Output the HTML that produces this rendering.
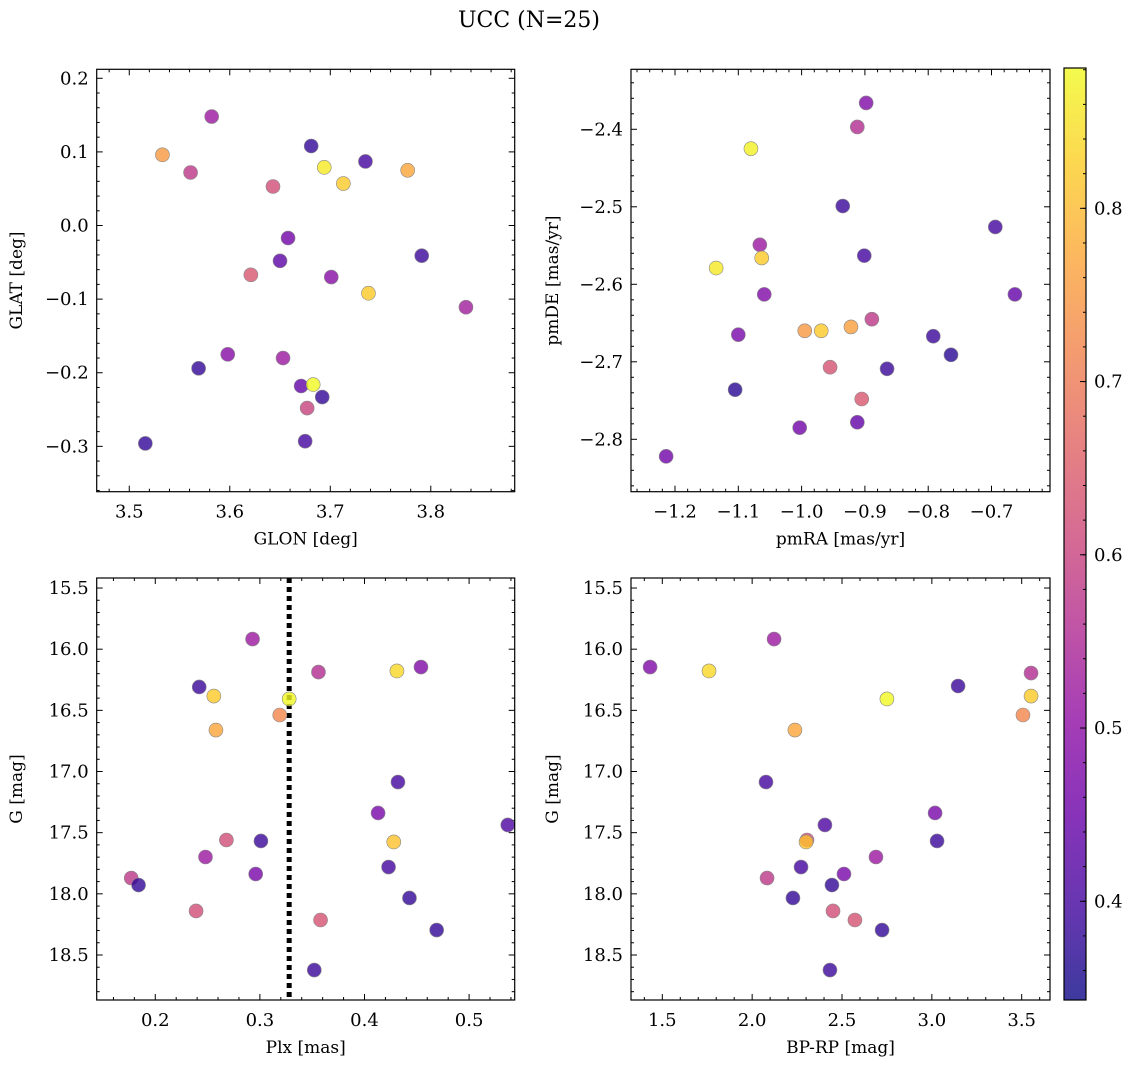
<!DOCTYPE html>
<html><head><meta charset="utf-8"><style>
body{margin:0;background:#fff;}
svg{display:block;font-family:"DejaVu Serif","Liberation Serif",serif;}
</style></head><body>
<svg id="fig" width="1136" height="1068" viewBox="0 0 1136 1068" xmlns="http://www.w3.org/2000/svg">
<defs><linearGradient id="plasmaGrad" x1="0" y1="1" x2="0" y2="0">
<stop offset="0" stop-color="#0d0887"/><stop offset="0.1" stop-color="#41049d"/><stop offset="0.2" stop-color="#6a00a8"/><stop offset="0.3" stop-color="#8f0da4"/><stop offset="0.4" stop-color="#b12a90"/><stop offset="0.5" stop-color="#cc4778"/><stop offset="0.6" stop-color="#e16462"/><stop offset="0.7" stop-color="#f2844b"/><stop offset="0.8" stop-color="#fca636"/><stop offset="0.9" stop-color="#fcce25"/><stop offset="1" stop-color="#f0f921"/>
</linearGradient></defs>
<text x="529" y="27" font-size="22" text-anchor="middle">UCC (N=25)</text>
</svg>
<script>
// ---- data ----
const glon = [3.582,3.533,3.561,3.681,3.735,3.694,3.713,3.777,3.643,3.658,3.621,3.650,3.701,3.791,3.738,3.835,3.598,3.569,3.653,3.671,3.683,3.692,3.677,3.675,3.516];
const glat = [0.148,0.096,0.072,0.108,0.087,0.079,0.057,0.075,0.053,-0.017,-0.067,-0.048,-0.070,-0.041,-0.092,-0.111,-0.175,-0.194,-0.180,-0.218,-0.216,-0.233,-0.248,-0.293,-0.296];
const c1 = [0.52,0.75,0.58,0.38,0.40,0.86,0.82,0.77,0.62,0.46,0.64,0.43,0.49,0.39,0.82,0.53,0.49,0.38,0.52,0.44,0.88,0.38,0.60,0.40,0.38];

const pmra = [-0.898,-0.912,-1.080,-0.935,-0.694,-0.901,-1.066,-1.063,-1.135,-1.059,-0.663,-1.100,-0.995,-0.969,-0.922,-0.889,-0.792,-0.764,-0.865,-0.955,-1.105,-0.905,-1.003,-0.912,-1.214];
const pmde = [-2.366,-2.397,-2.425,-2.499,-2.526,-2.563,-2.549,-2.566,-2.579,-2.613,-2.613,-2.665,-2.660,-2.660,-2.655,-2.645,-2.667,-2.691,-2.709,-2.707,-2.736,-2.748,-2.785,-2.778,-2.822];
const c2 = [0.48,0.56,0.87,0.39,0.40,0.40,0.52,0.82,0.86,0.48,0.44,0.47,0.75,0.82,0.76,0.58,0.39,0.37,0.39,0.63,0.37,0.64,0.46,0.44,0.46];

const plx = [0.293,0.242,0.256,0.258,0.319,0.328,0.356,0.431,0.454,0.432,0.413,0.537,0.428,0.268,0.301,0.248,0.177,0.184,0.296,0.423,0.443,0.239,0.358,0.469,0.352];
const gmag3 = [15.917,16.309,16.383,16.661,16.538,16.407,16.187,16.178,16.146,17.086,17.339,17.437,17.576,17.560,17.568,17.699,17.871,17.928,17.838,17.781,18.034,18.140,18.214,18.296,18.623];
const c3 = [0.52,0.39,0.82,0.77,0.72,0.88,0.56,0.84,0.48,0.40,0.47,0.41,0.81,0.62,0.39,0.52,0.58,0.38,0.47,0.40,0.38,0.62,0.63,0.38,0.39];
const plxLine = 0.328;

const bprp = [1.432,2.122,1.760,3.552,3.146,3.552,3.507,2.750,2.238,2.077,2.405,3.018,3.029,2.305,2.300,2.689,2.083,2.272,2.444,2.511,2.227,2.450,2.572,2.723,2.433];
const gmag4 = [16.146,15.917,16.178,16.195,16.301,16.383,16.538,16.407,16.661,17.086,17.437,17.339,17.568,17.560,17.576,17.699,17.871,17.781,17.928,17.838,18.034,18.140,18.214,18.296,18.623];
const c4 = [0.48,0.52,0.84,0.56,0.39,0.82,0.72,0.88,0.77,0.40,0.41,0.47,0.39,0.62,0.81,0.52,0.58,0.40,0.38,0.47,0.38,0.62,0.63,0.38,0.39];

const cbTicks = [0.4,0.5,0.6,0.7,0.8];
const cmin = 0.343, cmax = 0.881;

// ---- helpers ----
const NS = "http://www.w3.org/2000/svg";
const svg = document.getElementById('fig');
function mk(tag, attrs, parent){const e=document.createElementNS(NS,tag);for(const k in attrs)e.setAttribute(k,attrs[k]);(parent||svg).appendChild(e);return e;}
const stops=[[13,8,135],[65,4,157],[106,0,168],[143,13,164],[177,42,144],[204,71,120],[225,100,98],[242,132,75],[252,166,54],[252,206,37],[240,249,33]];
function plasma(v){let t=(v-cmin)/(cmax-cmin);t=Math.max(0,Math.min(1,t))*10;const i=Math.min(9,Math.floor(t)),f=t-i;const a=stops[i],b=stops[i+1];return `rgb(${a.map((x,j)=>Math.round(x+(b[j]-x)*f)).join(',')})`;}
function fmt(v,d){const s=v.toFixed(d);return v<0?'\u2212'+s.slice(1):s;}

function panel(o){
  const g=mk('g',{});
  
  
  const sx=v=>o.x0+(v-o.xmin)/(o.xmax-o.xmin)*(o.x1-o.x0);
  const sy=o.yinv?(v=>o.y0+(v-o.ymin)/(o.ymax-o.ymin)*(o.y1-o.y0)):(v=>o.y1-(v-o.ymin)/(o.ymax-o.ymin)*(o.y1-o.y0));
  const eps=1e-9;
  for(let k=Math.ceil(o.xmin/o.xmi-eps); k*o.xmi<=o.xmax+eps; k++){
    const v=k*o.xmi;
    const X=sx(v); const major=Math.abs(v/o.xma-Math.round(v/o.xma))<1e-6; const L=major?6:3;
    mk('line',{x1:X,x2:X,y1:o.y1,y2:o.y1-L,stroke:'#000','stroke-width':1},g);
    mk('line',{x1:X,x2:X,y1:o.y0,y2:o.y0+L,stroke:'#000','stroke-width':1},g);
    if(major){const t=mk('text',{x:X,y:o.y1+26,'font-size':18,'text-anchor':'middle'},g);t.textContent=fmt(v,o.xd);
      }
  }
  for(let k=Math.ceil(o.ymin/o.ymi-eps); k*o.ymi<=o.ymax+eps; k++){
    const v=k*o.ymi;
    const Y=sy(v); const major=Math.abs(v/o.yma-Math.round(v/o.yma))<1e-6; const L=major?6:3;
    mk('line',{x1:o.x0,x2:o.x0+L,y1:Y,y2:Y,stroke:'#000','stroke-width':1},g);
    mk('line',{x1:o.x1,x2:o.x1-L,y1:Y,y2:Y,stroke:'#000','stroke-width':1},g);
    if(major){const t=mk('text',{x:o.x0-8,y:Y+6,'font-size':18,'text-anchor':'end'},g);t.textContent=fmt(v,o.yd);
      }
  }
  if(o.vline!==undefined){const l=mk('line',{x1:sx(o.vline),x2:sx(o.vline),y1:o.y0,y2:o.y1,stroke:'#000','stroke-width':5,'stroke-dasharray':'5,4'},g);
    }
  for(let i=0;i<o.xs.length;i++){
    const c=mk('circle',{cx:sx(o.xs[i]),cy:sy(o.ys[i]),r:7,fill:plasma(o.cs[i]),'fill-opacity':0.8,stroke:'#888','stroke-width':0.6},g);
    
    
  }
  mk('rect',{x:o.x0,y:o.y0,width:o.x1-o.x0,height:o.y1-o.y0,fill:'none',stroke:'#000','stroke-width':1.2},g);
  const xl=mk('text',{x:(o.x0+o.x1)/2,y:o.y1+53,'font-size':17,'text-anchor':'middle'},g);xl.textContent=o.xlabel;
  
  const cy=(o.y0+o.y1)/2;const yl=mk('text',{x:o.ylx,y:cy,'font-size':17,'text-anchor':'middle',transform:`rotate(-90 ${o.ylx} ${cy})`},g);yl.textContent=o.ylabel;
  
}

panel({name:'glon-glat-panel',x0:96.7,x1:514.7,y0:69.3,y1:491.7,xmin:3.4676,xmax:3.8835,ymin:-0.3616,ymax:0.2122,xma:0.1,xmi:0.02,yma:0.1,ymi:0.02,xd:1,yd:1,xs:glon,ys:glat,cs:c1,xlabel:'GLON [deg]',ylabel:'GLAT [deg]',ylx:22});
panel({name:'pm-panel',x0:631,x1:1050,y0:69.3,y1:491.7,xmin:-1.2695,xmax:-0.6076,ymin:-2.8676,ymax:-2.3226,xma:0.1,xmi:0.02,yma:0.1,ymi:0.02,xd:1,yd:1,xs:pmra,ys:pmde,cs:c2,xlabel:'pmRA [mas/yr]',ylabel:'pmDE [mas/yr]',ylx:558});
panel({name:'plx-g-panel',x0:96.7,x1:514.7,y0:578,y1:1000,xmin:0.144,xmax:0.5436,ymin:15.418,ymax:18.868,yinv:true,xma:0.1,xmi:0.02,yma:0.5,ymi:0.1,xd:1,yd:1,xs:plx,ys:gmag3,cs:c3,xlabel:'Plx [mas]',ylabel:'G [mag]',ylx:22,vline:plxLine});
panel({name:'cmd-panel',x0:631,x1:1050,y0:578,y1:1000,xmin:1.3258,xmax:3.6575,ymin:15.418,ymax:18.868,yinv:true,xma:0.5,xmi:0.1,yma:0.5,ymi:0.1,xd:1,yd:1,xs:bprp,ys:gmag4,cs:c4,xlabel:'BP-RP [mag]',ylabel:'G [mag]',ylx:558});

// colorbar
const cb=mk('g',{});


const cbx=1064,cbw=22,cby0=68,cby1=1000;
mk('rect',{x:cbx,y:cby0,width:cbw,height:cby1-cby0,fill:'url(#plasmaGrad)','fill-opacity':0.8},cb);
mk('rect',{x:cbx,y:cby0,width:cbw,height:cby1-cby0,fill:'none',stroke:'#000','stroke-width':1.2},cb);
const cyf=v=>cby1-(v-cmin)/(cmax-cmin)*(cby1-cby0);
for(let k=18;k*0.02<=cmax+1e-9;k++){const Y=cyf(k*0.02);if(Y<cby0||Y>cby1)continue;mk('line',{x1:cbx+cbw,x2:cbx+cbw-3,y1:Y,y2:Y,stroke:'#000','stroke-width':1},cb);}
cbTicks.forEach(v=>{const Y=cyf(v);mk('line',{x1:cbx+cbw,x2:cbx+cbw-6,y1:Y,y2:Y,stroke:'#000','stroke-width':1},cb);
  const t=mk('text',{x:cbx+cbw+8,y:Y+6,'font-size':18},cb);t.textContent=v.toFixed(1);
  });
</script>
</body></html>
